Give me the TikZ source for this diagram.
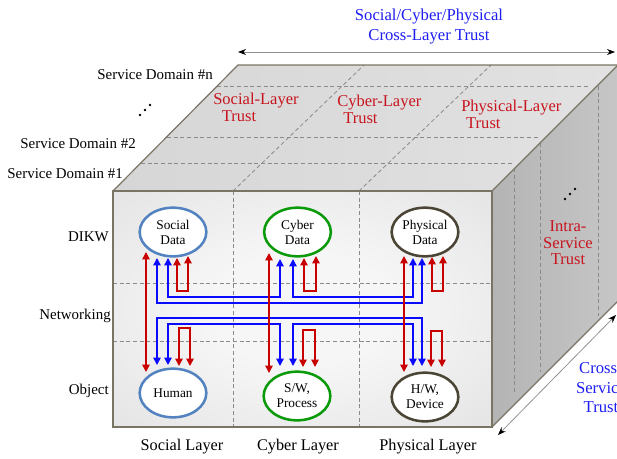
\documentclass[tikz,border=0pt]{standalone}
\usepackage{fontspec}
\setmainfont{Liberation Serif}
\usetikzlibrary{arrows.meta,calc,shapes.geometric}
\definecolor{edgec}{HTML}{7A7464}
\definecolor{dashc}{HTML}{8A8A8A}
\definecolor{arrred}{HTML}{C80000}
\definecolor{arrblue}{HTML}{0A0AFF}
\definecolor{txtred}{HTML}{C8141E}
\definecolor{txtblue}{HTML}{1E1EF0}
\definecolor{socc}{HTML}{5283C0}
\definecolor{cybc}{HTML}{0A9A0A}
\definecolor{phyc}{HTML}{4B4535}
\definecolor{fc0}{HTML}{F6F6F6}
\definecolor{fc1}{HTML}{DADADA}
\definecolor{fc2}{HTML}{C8C8C8}
\definecolor{tc1}{HTML}{D6D6D6}
\definecolor{tc2}{HTML}{EAEAEA}
\definecolor{tc3}{HTML}{E2E2E2}
\definecolor{rc1}{HTML}{B4B4B4}
\definecolor{rc2}{HTML}{C6C6C6}
\pgfdeclareradialshading{frontshade}{\pgfpoint{0bp}{0bp}}{color(0bp)=(fc0); color(12bp)=(fc0); color(50bp)=(fc1); color(72bp)=(fc2)}
\tikzset{
  facedash/.style={draw=dashc, line width=0.6pt, dash pattern=on 3pt off 2pt},
  cubeedge/.style={draw=edgec, line width=0.9pt, line join=miter},
  ell/.style={ellipse, draw, line width=1.9pt, fill=white, minimum width=50pt, minimum height=36.5pt, inner sep=0pt, align=center, font=\fontsize{10}{11.3}\selectfont},
  rarr/.style={draw=arrred, line width=1.1pt, arrows={Triangle[length=5.5pt,width=5.5pt]-Triangle[length=5.5pt,width=5.5pt]}},
  barr/.style={draw=arrblue, line width=1.1pt, arrows={Triangle[length=5.5pt,width=5.5pt]-Triangle[length=5.5pt,width=5.5pt]}},
  rowlab/.style={anchor=east, inner sep=0pt, font=\fontsize{11.2}{13}\selectfont},
  collab/.style={inner sep=0pt, font=\fontsize{12.2}{14}\selectfont},
  redlab/.style={text=txtred, inner sep=0pt, align=left, font=\fontsize{12.4}{12.75}\selectfont},
  redclab/.style={text=txtred, inner sep=0pt, align=center, font=\fontsize{12.4}{12.4}\selectfont},
  bluelab/.style={text=txtblue, inner sep=0pt, align=center, font=\fontsize{12.5}{15}\selectfont},
  dimarrow/.style={draw=gray!85, line width=0.6pt, arrows={Stealth[length=6pt,width=4.5pt,color=black]-Stealth[length=6pt,width=4.5pt,color=black]}},
  dotmark/.style={fill=black, draw=none},
}
\begin{document}
\begin{tikzpicture}[x=0.75pt,y=-0.75pt]
\useasboundingbox (0,0) rectangle (617,458);
\clip (0,0) rectangle (617,458);
% faces
\shade[left color=tc1, middle color=tc2, right color=tc3] (113,191) -- (238,65) -- (618,65) -- (492,191) -- cycle;
\shade[left color=rc1, right color=rc2] (492,191) -- (618,65) -- (618,301) -- (492,427) -- cycle;
\shade[shading=frontshade] (113,191) rectangle (492,427);
% dashed partitions: top face
\draw[facedash] (217,86) -- (590,86);
\draw[facedash] (167,137) -- (538,137);
\draw[facedash] (141,163) -- (513,163);
\draw[facedash] (233,191) -- (364,65);
\draw[facedash] (359,191) -- (491,65);
% right face
\draw[facedash] (514,168) -- (514,392);
\draw[facedash] (540,143) -- (540,372);
\draw[facedash] (598,86) -- (598,316);
% front face
\draw[facedash] (233,191) -- (233,427);
\draw[facedash] (359,191) -- (359,427);
\draw[facedash] (113,283) -- (492,283);
\draw[facedash] (113,341) -- (492,341);
% cube edges
\draw[cubeedge] (113,191) -- (238,65) -- (618,65);
\draw[cubeedge] (492,191) -- (618,65);
\draw[cubeedge] (492,427) -- (618,301);
\draw[cubeedge, line width=1.3pt] (113,191) rectangle (492,427);
% dots
\fill[dotmark] (140,115) circle (1.3) (145,110) circle (1.3) (150,105) circle (1.3);
\fill[dotmark] (565,199) circle (1.3) (570,194) circle (1.3) (575,189) circle (1.3);
% ellipses
\node[ell, draw=socc] (sd) at (173,232) {Social\\Data};
\node[ell, draw=cybc] (cd) at (297.5,232) {Cyber\\Data};
\node[ell, draw=phyc] (pd) at (425,232) {Physical\\Data};
\node[ell, draw=socc] (hu) at (173,393) {Human};
\node[ell, draw=cybc] (sw) at (297,396) {S/W,\\Process};
\node[ell, draw=phyc] (hw) at (425,397) {H/W,\\Device};
% blue networking links (upper, into DIKW)
\draw[barr] ($(sd)+(-16,26)$) -- ++(0,45) -| ($(pd)+(-3,26)$);
\draw[barr] ($(sd)+(-5,26)$) -- ++(0,39) -| ($(cd)+(-17.5,27)$);
\draw[barr] ($(cd)+(-4.5,27)$) -- ++(0,38) -| ($(pd)+(-12,26)$);
% blue networking links (lower, into objects)
\draw[barr] ($(hu)+(-16,-28)$) -- ++(0,-47) -| ($(hw)+(-3,-31)$);
\draw[barr] ($(hu)+(-5,-28)$) -- ++(0,-41) -| ($(sw)+(-17,-30)$);
\draw[barr] ($(sw)+(-4,-30)$) -- ++(0,-42) -| ($(hw)+(-12,-31)$);
% red loops
\draw[rarr] ($(sd)+(4,26)$) -- ++(0,33) -| ($(sd)+(15,24)$);
\draw[rarr] ($(cd)+(6.5,26)$) -- ++(0,33) -| ($(cd)+(18.5,24)$);
\draw[rarr] ($(pd)+(7,25)$) -- ++(0,34) -| ($(pd)+(18,24)$);
\draw[rarr] ($(hu)+(6,-27)$) -- ++(0,-38) -| ($(hu)+(17,-27)$);
\draw[rarr] ($(sw)+(6,-29)$) -- ++(0,-37) -| ($(sw)+(18,-29)$);
\draw[rarr] ($(hw)+(6,-30)$) -- ++(0,-36) -| ($(hw)+(17,-30)$);
% red vertical links
\draw[rarr] ($(sd)+(-27,20)$) -- ($(hu)+(-27,-21)$);
\draw[rarr] ($(cd)+(-28.5,21)$) -- ($(sw)+(-28,-23)$);
\draw[rarr] ($(pd)+(-21,24)$) -- ($(hw)+(-21,-25)$);
% dimension arrows
\coordinate (xl) at (238,52);
\coordinate (xr) at (615,52);
\draw[dimarrow] (xl) -- (xr);
\coordinate (sl) at (498,435);
\coordinate (sr) at (616,315);
\draw[dimarrow] (sl) -- (sr);
% labels
\node[rowlab] (ldikw) at (109,237) {DIKW};
\node[rowlab] (lnet) at (111,316) {Networking};
\node[rowlab] (lobj) at (109,391) {Object};
\node[rowlab] (sdn) at (213,75) {Service Domain \#n};
\node[rowlab] (sd2) at (136,144) {Service Domain \#2};
\node[rowlab] (sd1) at (123,174) {Service Domain \#1};
\node[collab] (lsoc) at (182,447) {Social Layer};
\node[collab] (lcyb) at (298,447) {Cyber Layer};
\node[collab] (lphy) at (428,447) {Physical Layer};
\node[redlab, anchor=west] (tsoc) at (213,107.5) {Social-Layer\\\hspace*{6.5pt}Trust};
\node[redlab, anchor=west] (tcyb) at (337,109.5) {Cyber-Layer\\\hspace*{4.5pt}Trust};
\node[redlab, anchor=west] (tphy) at (461,114.5) {Physical-Layer\\\hspace*{3.7pt}Trust};
\node[redclab] (tintra) at (568,243) {Intra-\\Service\\Trust};
\node[bluelab] (tcross) at (429,27) {Social/Cyber/Physical\\Cross-Layer Trust};
\node[bluelab, font=\fontsize{12.5}{14.6}\selectfont] (tcserv) at (601,388) {Cross-\\Service\\Trust};
\end{tikzpicture}
\end{document}
